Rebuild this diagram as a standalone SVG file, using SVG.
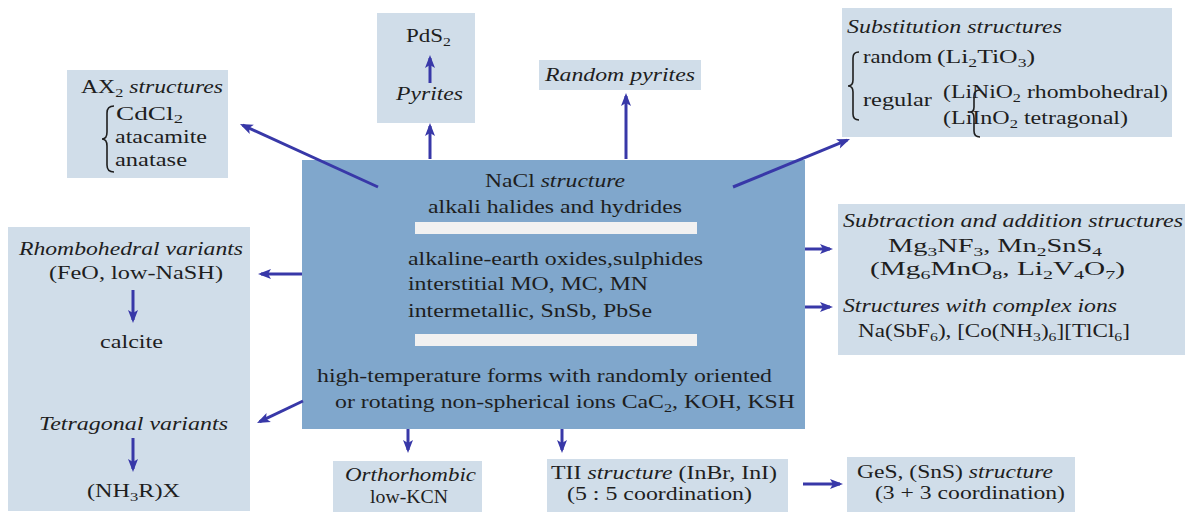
<svg xmlns="http://www.w3.org/2000/svg" width="1187" height="517" viewBox="0 0 1187 517" font-family="'Liberation Serif', 'Times New Roman', Times, serif">
<style>
text{font-family:'Liberation Serif','Times New Roman',Times,serif;font-size:19px;fill:#1e1e1e}
.i{font-style:italic}
.s{font-size:13px}
.box{fill:#d0dde9}
.main{fill:#80a7cc}
.bar{fill:#f1f1f1}
.arr{stroke:#3838a8;stroke-width:3;fill:none;marker-end:url(#ah)}
.br{stroke:#1e1e1e;stroke-width:1.6;fill:none}
</style>
<defs>
<marker id="ah" markerUnits="userSpaceOnUse" markerWidth="14" markerHeight="12" refX="10" refY="5" orient="auto" overflow="visible">
<path d="M0,0 L13,5 L0,10 L3,5 Z" fill="#3838a8"/>
</marker>
</defs>
<rect width="1187" height="517" fill="#ffffff"/>

<g id="nacl">
<rect class="main" x="302" y="160" width="503" height="269"/>
<rect class="bar" x="415" y="222" width="282" height="12"/>
<rect class="bar" x="415" y="334" width="282" height="12"/>
<text x="485" y="187" textLength="140" lengthAdjust="spacingAndGlyphs">NaCl <tspan class="i">structure</tspan></text>
<text x="428" y="213" textLength="254" lengthAdjust="spacingAndGlyphs">alkali halides and hydrides</text>
<text x="408" y="265" textLength="295" lengthAdjust="spacingAndGlyphs">alkaline-earth oxides,sulphides</text>
<text x="408" y="290" textLength="240" lengthAdjust="spacingAndGlyphs">interstitial MO, MC, MN</text>
<text x="408" y="317" textLength="244" lengthAdjust="spacingAndGlyphs">intermetallic, SnSb, PbSe</text>
<text x="317" y="382" textLength="455" lengthAdjust="spacingAndGlyphs">high-temperature forms with randomly oriented</text>
<text x="335" y="408" textLength="460" lengthAdjust="spacingAndGlyphs">or rotating non-spherical ions CaC<tspan class="s" dy="4">2</tspan><tspan dy="-4">, KOH, KSH</tspan></text>
</g>

<g id="ax2">
<rect class="box" x="67" y="70" width="161" height="108"/>
<text x="81" y="93" textLength="142" lengthAdjust="spacingAndGlyphs">AX<tspan class="s" dy="4">2</tspan><tspan dy="-4" class="i"> structures</tspan></text>
<path class="br" d="M114,106 Q107,106 107,113 L107,132 Q107,139 102,139 Q107,139 107,146 L107,165 Q107,172 114,172"/>
<text x="116" y="120" textLength="67" lengthAdjust="spacingAndGlyphs">CdCl<tspan class="s" dy="3">2</tspan></text>
<text x="115" y="143" textLength="92" lengthAdjust="spacingAndGlyphs">atacamite</text>
<text x="115" y="166" textLength="72" lengthAdjust="spacingAndGlyphs">anatase</text>
</g>

<g id="pyrites">
<rect class="box" x="377" y="13" width="98" height="110"/>
<text x="406" y="42" textLength="45" lengthAdjust="spacingAndGlyphs">PdS<tspan class="s" dy="4">2</tspan></text>
<text class="i" x="396" y="100" textLength="67" lengthAdjust="spacingAndGlyphs">Pyrites</text>
</g>

<g id="random-pyrites">
<rect class="box" x="539" y="60" width="162" height="30"/>
<text class="i" x="545" y="81" textLength="150" lengthAdjust="spacingAndGlyphs">Random pyrites</text>
</g>

<g id="substitution">
<rect class="box" x="842" y="8" width="330" height="129"/>
<text class="i" x="847" y="33" textLength="215" lengthAdjust="spacingAndGlyphs">Substitution structures</text>
<path class="br" d="M859,52 Q853,52 853,58 L853,80 Q853,86 848,86 Q853,86 853,92 L853,114 Q853,120 859,120"/>
<text x="863" y="63" textLength="69" lengthAdjust="spacingAndGlyphs">random</text>
<text x="937" y="63" textLength="98" lengthAdjust="spacingAndGlyphs">(Li<tspan class="s" dy="4">2</tspan><tspan dy="-4">TiO</tspan><tspan class="s" dy="4">3</tspan><tspan dy="-4">)</tspan></text>
<text x="863" y="106" textLength="69" lengthAdjust="spacingAndGlyphs">regular</text>
<text x="943" y="98" textLength="225" lengthAdjust="spacingAndGlyphs">(LiNiO<tspan class="s" dy="4">2</tspan><tspan dy="-4"> rhombohedral)</tspan></text>
<text x="943" y="124" textLength="185" lengthAdjust="spacingAndGlyphs">(LiInO<tspan class="s" dy="4">2</tspan><tspan dy="-4"> tetragonal)</tspan></text>
<path class="br" d="M980,90 Q974,90 974,96 L974,107 Q974,112 970,112 Q974,112 974,118 L974,131 Q974,137 980,137"/>
</g>

<g id="variants">
<rect class="box" x="8" y="227" width="242" height="284"/>
<text class="i" x="19" y="255" textLength="224" lengthAdjust="spacingAndGlyphs">Rhombohedral variants</text>
<text x="49" y="279" textLength="174" lengthAdjust="spacingAndGlyphs">(FeO, low-NaSH)</text>
<text x="100" y="348" textLength="63" lengthAdjust="spacingAndGlyphs">calcite</text>
<text class="i" x="39" y="430" textLength="189" lengthAdjust="spacingAndGlyphs">Tetragonal variants</text>
<text x="87" y="497" textLength="93" lengthAdjust="spacingAndGlyphs">(NH<tspan class="s" dy="4">3</tspan><tspan dy="-4">R)X</tspan></text>
</g>

<g id="subtraction">
<rect class="box" x="838" y="204" width="347" height="151"/>
<text class="i" x="843" y="227" textLength="340" lengthAdjust="spacingAndGlyphs">Subtraction and addition structures</text>
<text x="888" y="252" textLength="214" lengthAdjust="spacingAndGlyphs">Mg<tspan class="s" dy="4">3</tspan><tspan dy="-4">NF</tspan><tspan class="s" dy="4">3</tspan><tspan dy="-4">, Mn</tspan><tspan class="s" dy="4">2</tspan><tspan dy="-4">SnS</tspan><tspan class="s" dy="4">4</tspan></text>
<text x="870" y="275" textLength="255" lengthAdjust="spacingAndGlyphs">(Mg<tspan class="s" dy="4">6</tspan><tspan dy="-4">MnO</tspan><tspan class="s" dy="4">8</tspan><tspan dy="-4">, Li</tspan><tspan class="s" dy="4">2</tspan><tspan dy="-4">V</tspan><tspan class="s" dy="4">4</tspan><tspan dy="-4">O</tspan><tspan class="s" dy="4">7</tspan><tspan dy="-4">)</tspan></text>
<text class="i" x="843" y="312" textLength="274" lengthAdjust="spacingAndGlyphs">Structures with complex ions</text>
<text x="858" y="337" textLength="272" lengthAdjust="spacingAndGlyphs">Na(SbF<tspan class="s" dy="4">6</tspan><tspan dy="-4">), [Co(NH</tspan><tspan class="s" dy="4">3</tspan><tspan dy="-4">)</tspan><tspan class="s" dy="4">6</tspan><tspan dy="-4">][TlCl</tspan><tspan class="s" dy="4">6</tspan><tspan dy="-4">]</tspan></text>
</g>

<g id="orthorhombic">
<rect class="box" x="333" y="461" width="149" height="51"/>
<text class="i" x="345" y="481" textLength="131" lengthAdjust="spacingAndGlyphs">Orthorhombic</text>
<text x="370" y="503" textLength="78" lengthAdjust="spacingAndGlyphs">low-KCN</text>
</g>

<g id="tii">
<rect class="box" x="547" y="459" width="241" height="53"/>
<text x="551" y="479" textLength="226" lengthAdjust="spacingAndGlyphs">TII <tspan class="i">structure</tspan> (InBr, InI)</text>
<text x="567" y="500" textLength="185" lengthAdjust="spacingAndGlyphs">(5 : 5 coordination)</text>
</g>

<g id="ges">
<rect class="box" x="847" y="457" width="228" height="55"/>
<text x="857" y="478" textLength="196" lengthAdjust="spacingAndGlyphs">GeS, (SnS) <tspan class="i">structure</tspan></text>
<text x="875" y="499" textLength="190" lengthAdjust="spacingAndGlyphs">(3 + 3 coordination)</text>
</g>

<g id="connectors">
<line class="arr" x1="378" y1="187" x2="242.7" y2="125.2"/>
<line class="arr" x1="430" y1="159" x2="430" y2="126"/>
<line class="arr" x1="430" y1="83" x2="430" y2="58"/>
<line class="arr" x1="626" y1="159" x2="626" y2="96"/>
<line class="arr" x1="733" y1="187" x2="847.2" y2="140.1"/>
<line class="arr" x1="302" y1="274" x2="261" y2="274"/>
<line class="arr" x1="303" y1="401" x2="259.7" y2="421.7"/>
<line class="arr" x1="133" y1="290" x2="133" y2="320"/>
<line class="arr" x1="133" y1="438" x2="133" y2="469"/>
<line class="arr" x1="805" y1="249" x2="830" y2="249"/>
<line class="arr" x1="805" y1="307" x2="830" y2="307"/>
<line class="arr" x1="408" y1="429" x2="408" y2="450"/>
<line class="arr" x1="562" y1="429" x2="562" y2="450"/>
<line class="arr" x1="803" y1="484" x2="840" y2="484"/>
</g>
</svg>
